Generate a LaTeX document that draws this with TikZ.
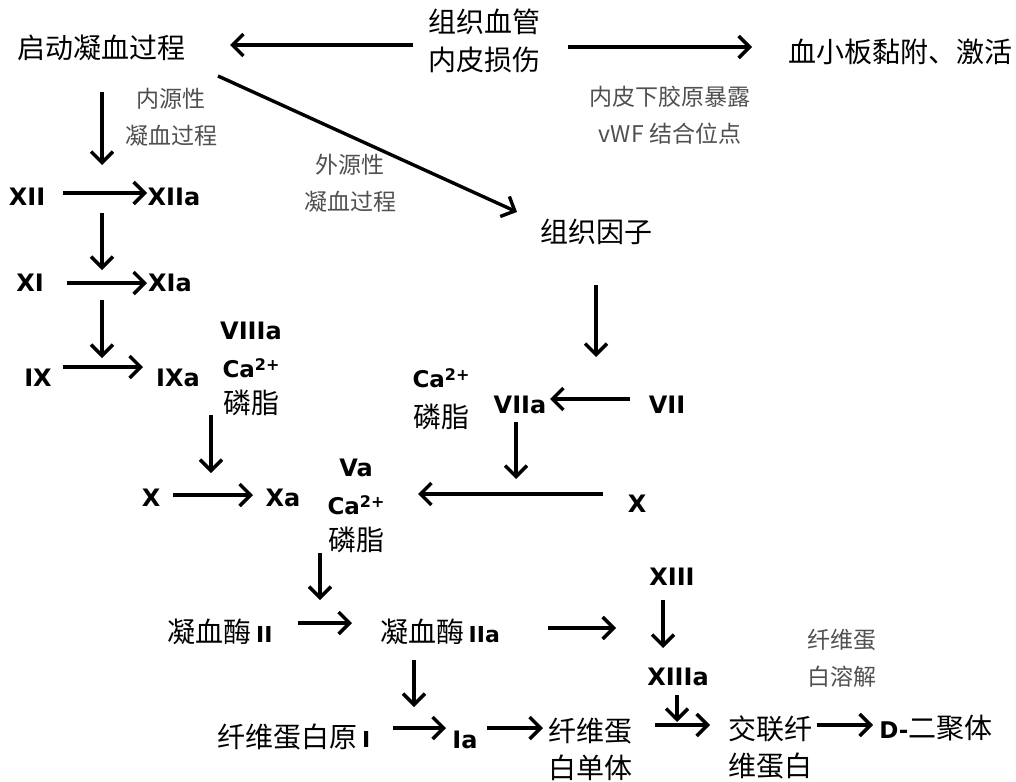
\documentclass[tikz,border=0pt]{standalone}
\usepackage{fontspec}
\newfontfamily\cjk{Noto Sans CJK SC}
\newfontfamily\lat{DejaVu Sans}
\usetikzlibrary{arrows.meta}
\definecolor{anncol}{HTML}{505050}
\newcommand\Lb[2][22]{{\lat\bfseries\fontsize{#1}{26}\selectfont #2}}
\newcommand\CaTwo{\Lb[23]{Ca\raisebox{0.55ex}{\fontsize{16}{16}\selectfont 2+}}}
\tikzset{
  cn/.style={font=\cjk\fontsize{28}{37}\selectfont, inner sep=0pt, align=center, text=black},
  an/.style={font=\cjk\fontsize{23}{37}\selectfont, inner sep=0pt, align=center, text=anncol},
  lt/.style={font=\lat\bfseries\fontsize{24}{26}\selectfont, inner sep=0pt},
  arr/.style={line width=3.4pt, -{Straight Barb[length=11pt,width=22pt]}}
}
\begin{document}
\begin{tikzpicture}[x=1pt,y=-1pt]
\fill[white] (0,0) rectangle (1016,781);
\useasboundingbox (0,0) rectangle (1016,781);
% nodes
\node[cn] (qd) at (101,48) {启动凝血过程};
\node[cn,font=\cjk\fontsize{28}{38}\selectfont] (zz) at (484,41) {组织血管\\内皮损伤};
\node[cn] (xb) at (900,52) {血小板黏附、激活};
\node[an] (n1) at (670,115) {内皮下胶原暴露\\vWF 结合位点};
\node[an] (n2) at (171,117) {内源性\\凝血过程};
\node[an] (n3) at (350,183) {外源性\\凝血过程};
\node[cn] (zy) at (596,232) {组织因子};
\node[lt] (xii) at (27,197) {XII};
\node[lt] (xiia) at (174,197) {XIIa};
\node[lt] (xi) at (30,283) {XI};
\node[lt] (xia) at (170,283) {XIa};
\node[lt] (ix) at (38,378) {IX};
\node[lt] (ixa) at (178,378) {IXa};
\node[lt] (v8) at (251,331) {VIIIa};
\node[inner sep=0pt] (c1) at (251,368) {\CaTwo};
\node[cn] (p1) at (251,403) {磷脂};
\node[lt] (xl) at (151,498) {X};
\node[lt] (xa) at (283,498) {Xa};
\node[lt] (va) at (356,468) {Va};
\node[inner sep=0pt] (c3) at (356,505) {\CaTwo};
\node[cn] (p3) at (356,540) {磷脂};
\node[inner sep=0pt] (c2) at (441,378) {\CaTwo};
\node[cn] (p2) at (441,417) {磷脂};
\node[lt] (viia) at (520,405) {VIIa};
\node[lt] (vii) at (667,405) {VII};
\node[lt] (xr) at (637,504) {X};
\node[cn] (th2) at (220,632) {凝血酶\,\Lb{II}};
\node[cn] (th2a) at (440,632) {凝血酶\,\Lb{IIa}};
\node[lt] (xiii) at (672,577) {XIII};
\node[lt] (xiiia) at (678,677) {XIIIa};
\node[an] (fr) at (842,658) {纤维蛋\\白溶解};
\node[cn] (fbg) at (294,737) {纤维蛋白原\,\Lb{I}};
\node[lt] (ia) at (465,740) {Ia};
\node[cn] (fm) at (590,749.5) {纤维蛋\\白单体};
\node[cn] (jl) at (770,747.5) {交联纤\\维蛋白};
\node[cn] (dd) at (936,728) {\Lb[23]{D-}二聚体};
% connectors
\draw[arr] ([shift={(-71,4)}]zz.center) -- ([shift={(129,-3)}]qd.center);
\draw[arr] ([shift={(84,6)}]zz.center) -- ([shift={(-148,-5)}]xb.center);
\draw[arr] ([shift={(117,28)}]qd.center) -- ([shift={(-79,-20)}]zy.center);
\draw[arr] ([shift={(1,44)}]qd.center) -- ([shift={(75,-32)}]xii.center);
\draw[arr] ([shift={(36,-4)}]xii.center) -- ([shift={(-27,-4)}]xiia.center);
\draw[arr] ([shift={(75,16)}]xii.center) -- ([shift={(72,-13)}]xi.center);
\draw[arr] ([shift={(37,0)}]xi.center) -- ([shift={(-23,0)}]xia.center);
\draw[arr] ([shift={(72,17)}]xi.center) -- ([shift={(64,-20)}]ix.center);
\draw[arr] ([shift={(25,-11)}]ix.center) -- ([shift={(-35,-11)}]ixa.center);
\draw[arr] ([shift={(-40,12)}]p1.center) -- ([shift={(60,-25)}]xl.center);
\draw[arr] ([shift={(22,-3)}]xl.center) -- ([shift={(-30,-3)}]xa.center);
\draw[arr] ([shift={(0,53)}]zy.center) -- ([shift={(-71,-48)}]vii.center);
\draw[arr] ([shift={(-37,-6)}]vii.center) -- ([shift={(30,-6)}]viia.center);
\draw[arr] ([shift={(-4,17)}]viia.center) -- ([shift={(-121,-25)}]xr.center);
\draw[arr] ([shift={(-34,-10)}]xr.center) -- ([shift={(62,-11)}]c3.center);
\draw[arr] ([shift={(-36,13)}]p3.center) -- ([shift={(100,-32)}]th2.center);
\draw[arr] ([shift={(78,-9)}]th2.center) -- ([shift={(-88,-9)}]th2a.center);
\draw[arr] ([shift={(108,-4)}]th2a.center) -- ([shift={(-56,51)}]xiii.center);
\draw[arr] ([shift={(-9,23)}]xiii.center) -- ([shift={(-15,-29)}]xiiia.center);
\draw[arr] ([shift={(-26,28)}]th2a.center) -- ([shift={(120,-30)}]fbg.center);
\draw[arr] ([shift={(99,-9)}]fbg.center) -- ([shift={(-19,-12)}]ia.center);
\draw[arr] ([shift={(22,-12)}]ia.center) -- ([shift={(-47,-21.5)}]fm.center);
\draw[arr] ([shift={(-1,18)}]xiiia.center) -- ([shift={(-93,-25.5)}]jl.center);
\draw[arr] ([shift={(65,-24.5)}]fm.center) -- ([shift={(-60,-22.5)}]jl.center);
\draw[arr] ([shift={(47,-22.5)}]jl.center) -- ([shift={(-63,-3)}]dd.center);
\end{tikzpicture}
\end{document}
